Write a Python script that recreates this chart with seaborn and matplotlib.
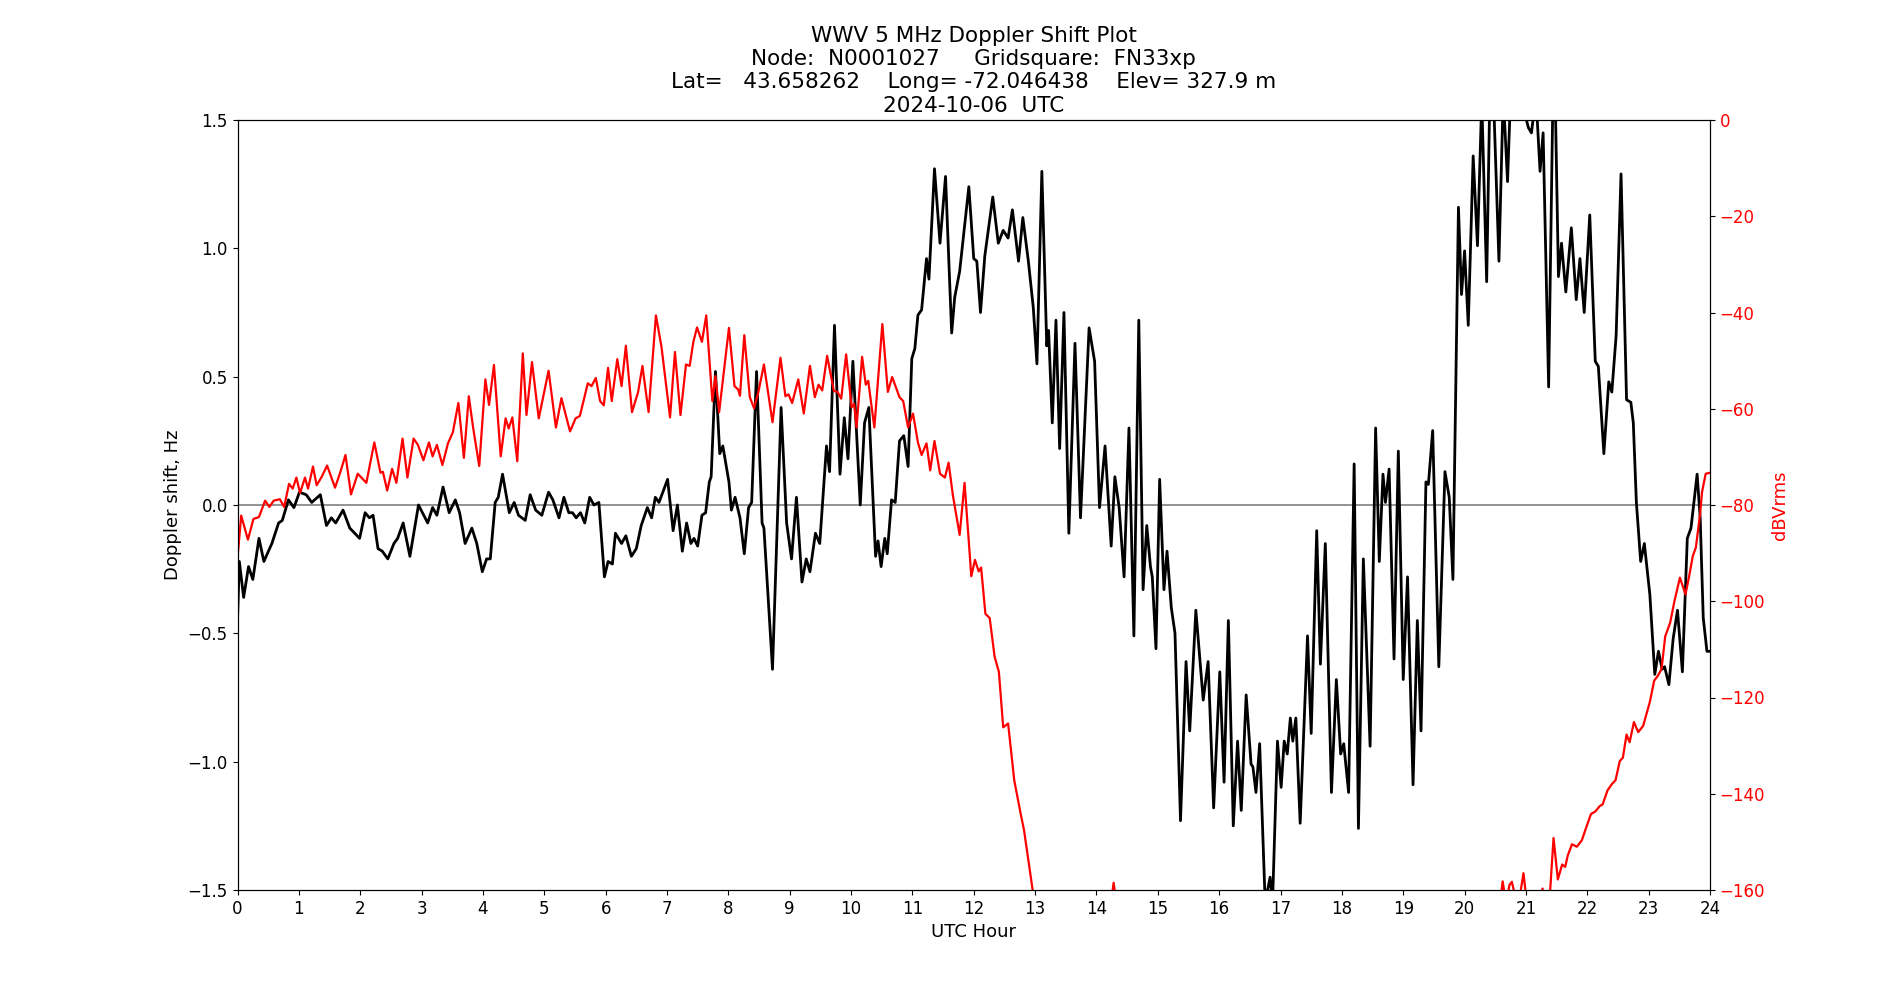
import matplotlib
matplotlib.use("Agg")
import matplotlib.pyplot as plt
import seaborn as sns
import pandas as pd

plt.rcParams['font.family'] = ['DejaVu Sans']

title_lines = [
    "WWV 5 MHz Doppler Shift Plot",
    "Node:  N0001027     Gridsquare:  FN33xp",
    "Lat=   43.658262    Long= -72.046438    Elev= 327.9 m",
    "2024-10-06  UTC",
]
x_label = "UTC Hour"
y_label = "Doppler shift, Hz"
y2_label = "dBVrms"

# Doppler shift (Hz) vs UTC hour
dop_hour = [0.00, 0.03, 0.10, 0.18, 0.25, 0.35, 0.43, 0.56, 0.67, 0.73, 0.83, 0.92, 1.01, 1.12, 1.21, 1.35, 1.45, 1.53, 1.60, 1.72,
            1.83, 1.99, 2.08, 2.15, 2.21, 2.29, 2.36, 2.45, 2.55, 2.61, 2.70, 2.81, 2.95, 3.10, 3.18, 3.25, 3.35, 3.45, 3.55, 3.62,
            3.71, 3.82, 3.90, 3.99, 4.06, 4.12, 4.20, 4.25, 4.32, 4.43, 4.51, 4.58, 4.69, 4.77, 4.86, 4.96, 5.07, 5.14, 5.24, 5.32,
            5.40, 5.46, 5.52, 5.59, 5.66, 5.74, 5.81, 5.89, 5.98, 6.04, 6.11, 6.16, 6.26, 6.33, 6.42, 6.50, 6.58, 6.68, 6.75, 6.81,
            6.87, 7.01, 7.10, 7.17, 7.25, 7.32, 7.39, 7.44, 7.50, 7.57, 7.63, 7.69, 7.72, 7.79, 7.86, 7.91, 8.01, 8.05, 8.11, 8.19,
            8.26, 8.33, 8.38, 8.46, 8.55, 8.58, 8.72, 8.86, 8.95, 9.03, 9.11, 9.20, 9.27, 9.33, 9.42, 9.49, 9.60, 9.65, 9.73, 9.82,
            9.89, 9.95, 10.03, 10.15, 10.22, 10.29, 10.40, 10.44, 10.49, 10.55, 10.59, 10.66, 10.72, 10.79, 10.86, 10.93, 10.99, 11.04, 11.09, 11.15,
            11.23, 11.27, 11.36, 11.45, 11.54, 11.64, 11.69, 11.77, 11.92, 12.00, 12.05, 12.11, 12.18, 12.31, 12.40, 12.48, 12.56, 12.63, 12.73, 12.80,
            12.89, 12.97, 13.03, 13.11, 13.19, 13.22, 13.28, 13.34, 13.40, 13.47, 13.55, 13.65, 13.74, 13.88, 13.97, 14.05, 14.14, 14.24, 14.30, 14.37,
            14.45, 14.53, 14.61, 14.69, 14.76, 14.82, 14.88, 14.91, 14.97, 15.03, 15.10, 15.15, 15.22, 15.28, 15.37, 15.46, 15.52, 15.62, 15.70, 15.74,
            15.82, 15.91, 16.01, 16.08, 16.15, 16.23, 16.30, 16.36, 16.44, 16.52, 16.55, 16.60, 16.66, 16.75, 16.83, 16.87, 16.95, 17.01, 17.06, 17.11,
            17.16, 17.20, 17.25, 17.32, 17.44, 17.50, 17.59, 17.65, 17.73, 17.83, 17.91, 17.98, 18.03, 18.11, 18.20, 18.27, 18.35, 18.46, 18.55, 18.61,
            18.67, 18.71, 18.77, 18.85, 18.92, 19.00, 19.07, 19.16, 19.23, 19.29, 19.37, 19.41, 19.48, 19.58, 19.68, 19.75, 19.81, 19.90, 19.95, 20.00,
            20.06, 20.14, 20.21, 20.28, 20.36, 20.41, 20.47, 20.56, 20.63, 20.70, 20.75, 20.88, 21.04, 21.09, 21.14, 21.18, 21.23, 21.28, 21.37, 21.44,
            21.48, 21.53, 21.58, 21.65, 21.74, 21.82, 21.88, 21.95, 22.04, 22.13, 22.18, 22.27, 22.35, 22.40, 22.47, 22.55, 22.64, 22.71, 22.75, 22.80,
            22.87, 22.93, 23.02, 23.10, 23.16, 23.22, 23.26, 23.33, 23.40, 23.47, 23.55, 23.63, 23.69, 23.79, 23.84, 23.89, 23.95, 24.00]
dop_hz = [-0.45, -0.22, -0.36, -0.24, -0.29, -0.13, -0.22, -0.15, -0.07, -0.06, 0.02, -0.01, 0.05, 0.04, 0.01, 0.04, -0.08, -0.05, -0.07, -0.02,
          -0.09, -0.13, -0.03, -0.05, -0.04, -0.17, -0.18, -0.21, -0.15, -0.13, -0.07, -0.20, 0.00, -0.07, -0.01, -0.04, 0.07, -0.03, 0.02, -0.03,
          -0.15, -0.09, -0.15, -0.26, -0.21, -0.21, 0.01, 0.03, 0.12, -0.03, 0.01, -0.04, -0.06, 0.04, -0.02, -0.04, 0.05, 0.02, -0.05, 0.03,
          -0.03, -0.03, -0.05, -0.03, -0.07, 0.03, 0.00, 0.01, -0.28, -0.22, -0.23, -0.11, -0.15, -0.12, -0.20, -0.17, -0.08, -0.01, -0.05, 0.03,
          0.01, 0.10, -0.10, 0.00, -0.18, -0.07, -0.15, -0.13, -0.16, -0.04, -0.03, 0.09, 0.11, 0.52, 0.20, 0.23, 0.09, -0.02, 0.03, -0.05,
          -0.19, -0.01, 0.01, 0.52, -0.07, -0.09, -0.64, 0.38, -0.07, -0.21, 0.03, -0.30, -0.21, -0.26, -0.11, -0.15, 0.23, 0.13, 0.70, 0.12,
          0.34, 0.18, 0.56, 0.00, 0.32, 0.38, -0.20, -0.14, -0.24, -0.13, -0.19, 0.02, 0.01, 0.25, 0.27, 0.15, 0.57, 0.61, 0.74, 0.76,
          0.96, 0.88, 1.31, 1.02, 1.28, 0.67, 0.81, 0.91, 1.24, 0.96, 0.95, 0.75, 0.97, 1.20, 1.02, 1.07, 1.04, 1.15, 0.95, 1.12,
          0.95, 0.77, 0.55, 1.30, 0.62, 0.68, 0.32, 0.72, 0.22, 0.75, -0.11, 0.63, -0.05, 0.69, 0.56, -0.01, 0.23, -0.16, 0.11, -0.01,
          -0.28, 0.30, -0.51, 0.72, -0.33, -0.08, -0.24, -0.28, -0.56, 0.10, -0.33, -0.18, -0.40, -0.50, -1.23, -0.61, -0.88, -0.41, -0.64, -0.76,
          -0.61, -1.18, -0.65, -1.08, -0.45, -1.25, -0.92, -1.19, -0.74, -1.01, -1.02, -1.12, -0.93, -1.55, -1.45, -1.55, -0.92, -1.10, -0.92, -0.97,
          -0.83, -0.92, -0.83, -1.24, -0.51, -0.89, -0.10, -0.62, -0.15, -1.12, -0.68, -0.97, -0.93, -1.12, 0.16, -1.26, -0.21, -0.94, 0.30, -0.22,
          0.12, 0.01, 0.14, -0.60, 0.21, -0.68, -0.28, -1.09, -0.45, -0.88, 0.09, 0.08, 0.29, -0.63, 0.13, 0.03, -0.29, 1.16, 0.82, 0.99,
          0.70, 1.36, 1.01, 1.58, 0.87, 1.58, 1.60, 0.95, 1.60, 1.26, 1.60, 1.62, 1.47, 1.45, 1.55, 1.52, 1.30, 1.45, 0.46, 1.60,
          1.55, 0.89, 1.02, 0.83, 1.08, 0.80, 0.96, 0.75, 1.13, 0.56, 0.54, 0.20, 0.48, 0.44, 0.66, 1.29, 0.41, 0.40, 0.32, 0.01,
          -0.22, -0.15, -0.35, -0.66, -0.57, -0.64, -0.63, -0.70, -0.52, -0.41, -0.65, -0.13, -0.09, 0.12, -0.05, -0.44, -0.57, -0.57]

# Signal level (dBVrms) vs UTC hour
lvl_hour = [0.00, 0.06, 0.17, 0.26, 0.35, 0.45, 0.52, 0.59, 0.69, 0.76, 0.84, 0.90, 0.96, 1.02, 1.10, 1.15, 1.23, 1.29, 1.37, 1.46,
            1.59, 1.68, 1.76, 1.85, 1.96, 2.10, 2.23, 2.33, 2.37, 2.44, 2.52, 2.59, 2.69, 2.77, 2.87, 2.94, 3.03, 3.12, 3.18, 3.25,
            3.34, 3.43, 3.51, 3.60, 3.69, 3.77, 3.84, 3.94, 4.04, 4.10, 4.18, 4.29, 4.37, 4.42, 4.48, 4.56, 4.65, 4.71, 4.80, 4.91,
            5.07, 5.19, 5.28, 5.35, 5.42, 5.51, 5.58, 5.71, 5.77, 5.84, 5.91, 5.97, 6.04, 6.10, 6.19, 6.26, 6.33, 6.43, 6.53, 6.60,
            6.70, 6.82, 6.91, 7.05, 7.13, 7.22, 7.31, 7.37, 7.43, 7.49, 7.57, 7.64, 7.74, 7.79, 7.85, 8.01, 8.10, 8.16, 8.19, 8.26,
            8.35, 8.42, 8.49, 8.58, 8.72, 8.85, 8.93, 8.98, 9.04, 9.14, 9.23, 9.33, 9.41, 9.47, 9.53, 9.61, 9.72, 9.78, 9.84, 9.92,
            10.01, 10.05, 10.09, 10.18, 10.24, 10.28, 10.38, 10.51, 10.60, 10.67, 10.79, 10.85, 10.93, 11.01, 11.09, 11.15, 11.23, 11.29, 11.36, 11.45,
            11.53, 11.59, 11.66, 11.77, 11.85, 11.96, 12.02, 12.08, 12.12, 12.19, 12.26, 12.34, 12.41, 12.48, 12.56, 12.66, 12.77, 12.82, 12.96, 13.05,
            14.20, 14.28, 14.36, 20.55, 20.62, 20.68, 20.73, 20.77, 20.82, 20.88, 20.96, 21.00, 21.22, 21.27, 21.32, 21.38, 21.45, 21.52, 21.59, 21.64,
            21.68, 21.75, 21.83, 21.91, 21.98, 22.06, 22.13, 22.20, 22.25, 22.33, 22.40, 22.46, 22.53, 22.58, 22.64, 22.69, 22.76, 22.83, 22.91, 22.96,
            23.02, 23.09, 23.15, 23.21, 23.27, 23.35, 23.42, 23.51, 23.60, 23.66, 23.72, 23.77, 23.84, 23.87, 23.93, 24.00]
lvl_db = [-91.1, -82.2, -87.2, -82.9, -82.5, -79.1, -80.4, -79.1, -78.8, -80.4, -75.6, -76.6, -74.3, -77.5, -74.3, -76.6, -72.0, -75.9, -74.2, -71.8,
          -76.4, -73.0, -69.6, -77.8, -73.5, -75.4, -67.0, -73.3, -73.1, -77.0, -72.5, -75.4, -66.2, -74.3, -66.2, -67.5, -70.7, -67.0, -69.9, -67.5,
          -71.7, -67.2, -64.9, -58.8, -70.2, -57.4, -63.9, -71.9, -53.9, -59.2, -50.9, -69.9, -62.0, -64.1, -61.8, -70.9, -48.5, -61.3, -50.3, -62.0,
          -52.1, -63.9, -57.8, -61.3, -64.7, -62.0, -61.5, -54.7, -55.3, -53.6, -58.4, -59.3, -51.5, -58.4, -49.7, -55.3, -46.9, -60.7, -56.5, -51.1,
          -60.7, -40.6, -47.1, -61.8, -48.2, -61.3, -50.8, -51.1, -46.1, -43.1, -46.1, -40.6, -58.4, -53.2, -60.7, -43.2, -55.3, -56.0, -57.3, -44.7,
          -57.6, -59.9, -56.5, -50.8, -62.8, -49.4, -57.4, -57.0, -58.8, -53.9, -61.0, -51.1, -57.6, -55.0, -56.2, -49.0, -56.3, -56.5, -57.9, -48.7,
          -59.7, -59.0, -63.9, -49.2, -55.0, -54.2, -63.9, -42.4, -56.5, -53.4, -57.6, -58.4, -63.9, -61.0, -67.0, -69.6, -67.2, -72.8, -66.7, -73.5,
          -74.3, -71.2, -78.0, -86.2, -75.4, -94.8, -91.4, -93.8, -93.0, -102.6, -103.5, -111.5, -114.7, -126.2, -125.4, -137.2, -144.5, -147.6, -160.0, -166.0,
          -166.0, -158.5, -166.0, -166.0, -158.2, -163.0, -159.0, -158.3, -161.0, -163.0, -156.5, -161.0, -163.0, -159.7, -163.0, -163.0, -149.2, -157.8, -154.7, -155.2,
          -152.9, -150.5, -151.0, -149.7, -147.1, -144.2, -143.7, -142.6, -142.2, -139.3, -138.0, -137.2, -133.2, -132.5, -127.7, -129.3, -125.1, -127.2, -125.9, -123.6,
          -120.9, -116.5, -115.5, -114.1, -107.3, -104.5, -100.0, -95.1, -98.6, -94.8, -90.6, -88.8, -81.7, -77.3, -73.5, -73.3]

hour_ticks = list(range(0, 25))

df_dop = pd.DataFrame({"hour": dop_hour, "hz": dop_hz})
df_lvl = pd.DataFrame({"hour": lvl_hour, "db": lvl_db})

fig, ax = plt.subplots(figsize=(19, 10), dpi=100)
fig.subplots_adjust(left=0.125, right=0.9, bottom=0.11, top=0.88)

ax.axhline(0, color="gray", linewidth=1.2, zorder=1)
sns.lineplot(data=df_dop, x="hour", y="hz", ax=ax, color="black", linewidth=2.0,
             estimator=None, sort=False, zorder=3)
ax.set_xlim(0, 24)
ax.set_ylim(-1.5, 1.5)
ax.set_xticks(hour_ticks)
ax.set_xlabel(x_label, fontsize=13)
ax.set_ylabel(y_label, fontsize=13)
ax.tick_params(labelsize=12)
ax.set_title("\n".join(title_lines), fontsize=15.5)

ax2 = ax.twinx()
sns.lineplot(data=df_lvl, x="hour", y="db", ax=ax2, color="red", linewidth=1.6,
             estimator=None, sort=False)
ax2.set_ylim(-160, 0)
ax2.set_xlim(0, 24)
ax2.set_ylabel(y2_label, color="red", fontsize=13)
ax2.tick_params(axis="y", labelcolor="red", labelsize=12)

fig.savefig("out.png", dpi=100)
